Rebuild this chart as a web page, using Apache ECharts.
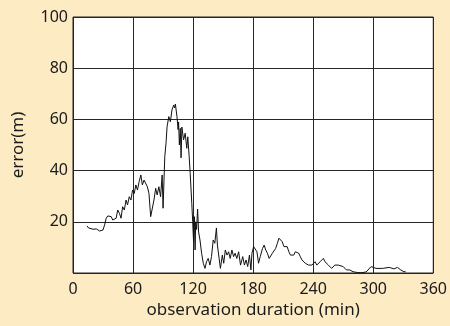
<!DOCTYPE html>
<html lang="en">
<head>
    <meta charset="UTF-8">
    <title>error vs observation duration</title>
    <script src="https://cdn.jsdelivr.net/npm/echarts@6/dist/echarts.min.js"></script>
    <style>
        html, body { margin: 0; padding: 0; background: #fdebc4; }
    </style>
</head>
<body>
<div id="main" style="width:450px;height:326px;"></div>
<script type="text/javascript">
    // observation duration (min)
    var minutes = [
        14, 15.5, 17, 20, 23.4, 26.6, 28.3, 30, 31.6, 33.2, 34.8, 36.5, 38.2, 39.7, 41.4, 43.1,
        44.7, 46.4, 48, 49.6, 51.3, 53, 54.5, 56.2, 57.9, 59.5, 61.2, 62.8, 64.4, 66.1, 67.8,
        69.3, 71, 72.7, 74.3, 75.9, 77.6, 79.2, 80.9, 82.6, 84.1, 85.8, 87.5, 89.1, 90, 91.7,
        93, 94, 95.7, 97.3, 98.9, 100.6, 101.5, 102.3, 103.9, 105, 105.5, 106.3, 107.2, 108,
        108.8, 110.5, 112.1, 113.7, 114.7, 116.1, 117.1, 118.7, 119.6, 120.5, 121.3, 122,
        122.6, 123.5, 124.5, 125.5, 126.9, 128.5, 130.2, 131.9, 133.4, 135.1, 136.8, 138.4,
        140.1, 141.7, 143.3, 144.3, 146, 147.3, 149.2, 150.6, 152.2, 153.9, 155.5, 157.1,
        158.8, 160.5, 162, 163.7, 165.5, 167.4, 169.6, 171.3, 172.9, 174.6, 176.3, 177.8,
        178.8, 180.5, 181.8, 183.8, 185.4, 187.1, 189.4, 191, 192.6, 194.3, 196, 197.6, 199.2,
        200.9, 202.5, 204.2, 205.8, 207.4, 209.1, 210.8, 212.3, 214, 215.7, 217.3, 219, 220.6,
        222.2, 223.9, 225.6, 227.1, 228.8, 230.5, 232.1, 233.8, 235.4, 238.7, 241.9, 243.6,
        246.9, 248.5, 250.2, 251.8, 255.2, 258.4, 261.7, 265, 266.6, 270, 273.2, 276.5, 279.8,
        284, 288, 292.9, 297.9, 302.8, 309.4, 315.9, 320.8, 324.2, 327.5, 330.7, 332.4
    ];
    // error (m)
    var errors = [
        18.4, 17.6, 17.5, 17.1, 17.2, 16.4, 15.7, 16.8, 18.8, 21.4, 22.3, 21.6, 22.0, 20.7, 20.0, 21.4,
        24.6, 23.3, 21.4, 25.9, 24.6, 28.5, 26.6, 29.8, 28.5, 32.4, 31.1, 34.4, 32.4, 35.7, 38.3,
        34.4, 36.3, 37.0, 33.7, 31.1, 22.0, 21.4, 28.5, 33.1, 30.5, 33.7, 29.8, 38.3, 25.3, 45.4,
        51, 57.1, 61.1, 59.1, 63.7, 65.6, 64.5, 66, 61.1, 56, 59, 50, 56.5, 45,
        57, 52, 54.6, 48.7, 53.2, 45.4, 38.9, 27.2, 20.0, 12, 22, 9,
        20, 17, 25, 16, 12.9, 7.7, 3.8, 1.8, 4.4, 5.7, 3.1, 6.4,
        12.9, 11.6, 17.6, 10.9, 5.7, 1.8, 7.0, 3.8, 9.0, 7.0, 8.3, 5.7,
        9.0, 6.4, 7.7, 5.7, 8.3, 3.1, 6.4, 3.1, 5.1, 2.5, 7.0, 1.2,
        7.7, 10.3, 10.9, 8.3, 3.8, 6.4, 9.6, 10.9, 9.0, 7.7, 5.7, 5.1, 7.7,
        8.3, 9.6, 11.6, 13.6, 14.2, 12.2, 10.3, 9.6, 10.3, 8.3, 7.0, 6.4, 7.0,
        8.3, 9.0, 7.7, 6.4, 5.1, 4.4, 3.8, 4.4, 3.1, 3.1, 4.4, 3.1,
        4.4, 5.1, 5.7, 4.4, 3.1, 1.8, 3.1, 3.1, 3.8, 2.5, 1.2, 1.2, 0.5,
        0.2, 0.1, 0.4, 2.5, 1.8, 1.8, 2.2, 1.6, 2.2, 1.2, 0.5, 0.5
    ];

    var points = [];
    for (var i = 0; i < minutes.length; i++) {
        points.push([minutes[i], errors[i]]);
    }

    var labelFont = { fontFamily: 'Noto Sans', fontSize: 16, color: '#1a1a1a' };
    var nameFont = { fontFamily: 'Noto Sans', fontSize: 17, color: '#1a1a1a' };

    var myChart = echarts.init(document.getElementById('main'));
    myChart.setOption({
        backgroundColor: '#fdebc4',
        animation: false,
        grid: {
            left: 73, top: 17, right: 12, bottom: 53,
            show: true,
            backgroundColor: '#ffffff',
            borderColor: '#262626',
            borderWidth: 1
        },
        xAxis: {
            type: 'value',
            min: 0, max: 360, interval: 60,
            name: 'observation duration (min)',
            nameLocation: 'middle',
            nameGap: 28,
            nameTextStyle: nameFont,
            axisLine: { show: false },
            axisTick: { show: false },
            axisLabel: Object.assign({ margin: 8 }, labelFont),
            splitLine: { show: true, lineStyle: { color: '#262626', width: 1 } }
        },
        yAxis: {
            type: 'value',
            min: 0, max: 100, interval: 20,
            name: 'error(m)',
            nameLocation: 'middle',
            nameGap: 46,
            nameTextStyle: nameFont,
            axisLine: { show: false },
            axisTick: { show: false },
            axisLabel: Object.assign({
                margin: 5,
                formatter: function (v) { return v === 0 ? '' : v; }
            }, labelFont),
            splitLine: { show: true, lineStyle: { color: '#262626', width: 1 } }
        },
        series: [
            {
                type: 'line',
                data: points,
                showSymbol: false,
                lineStyle: { color: '#111111', width: 1 }
            }
        ]
    });
</script>
</body>
</html>
